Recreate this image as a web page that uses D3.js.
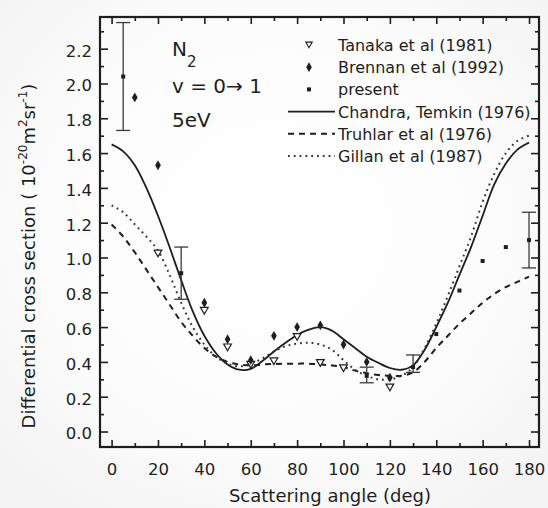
<!DOCTYPE html>
<html>
<head>
<meta charset="utf-8">
<script src="https://cdn.jsdelivr.net/npm/d3@7"></script>
<style>
  html, body { margin: 0; padding: 0; background: #fff; }
  svg { display: block; font-family: "DejaVu Sans", sans-serif; }
</style>
</head>
<body>
<svg id="chart" width="548" height="508"></svg>
<script>
const angles = d3.range(0, 181, 5);
const chandraTemkin = [1.65, 1.61, 1.53, 1.40, 1.24, 1.06, 0.87, 0.69, 0.55, 0.45, 0.385, 0.355, 0.36,
  0.405, 0.46, 0.51, 0.555, 0.585, 0.60, 0.58, 0.53, 0.48, 0.43, 0.395, 0.365, 0.355, 0.38,
  0.47, 0.60, 0.74, 0.90, 1.06, 1.24, 1.42, 1.54, 1.62, 1.66];
const truhlar = [1.19, 1.12, 1.03, 0.93, 0.83, 0.73, 0.63, 0.55, 0.48, 0.43, 0.40, 0.385, 0.38,
  0.385, 0.388, 0.39, 0.39, 0.39, 0.385, 0.38, 0.37, 0.35, 0.335, 0.325, 0.32, 0.32, 0.34,
  0.40, 0.48, 0.55, 0.62, 0.68, 0.74, 0.79, 0.83, 0.86, 0.89];
const gillan = [1.30, 1.26, 1.19, 1.12, 1.04, 0.90, 0.74, 0.60, 0.50, 0.43, 0.39, 0.375, 0.39,
  0.42, 0.46, 0.49, 0.505, 0.51, 0.50, 0.47, 0.41, 0.355, 0.32, 0.30, 0.30, 0.32, 0.37,
  0.48, 0.62, 0.78, 0.95, 1.12, 1.32, 1.48, 1.60, 1.67, 1.70];

// measurements
const tanakaAngles = [20, 40, 50, 60, 70, 80, 90, 100, 120];
const tanakaValues = [1.03, 0.70, 0.49, 0.39, 0.41, 0.55, 0.40, 0.37, 0.26];
const brennanAngles = [10, 20, 40, 50, 60, 70, 80, 90, 100, 110, 120];
const brennanValues = [1.92, 1.53, 0.74, 0.53, 0.41, 0.55, 0.60, 0.61, 0.50, 0.40, 0.31];
const presentAngles = [5, 30, 110, 130, 140, 150, 160, 170, 180];
const presentValues = [2.04, 0.91, 0.32, 0.37, 0.56, 0.81, 0.98, 1.06, 1.10];
const presentLow = [1.73, 0.76, 0.28, 0.34, null, null, null, null, 0.94];
const presentHigh = [2.35, 1.06, 0.37, 0.44, null, null, null, null, 1.26];

// axes
const xTickValues = [0, 20, 40, 60, 80, 100, 120, 140, 160, 180];
const xTickLabels = ['0', '20', '40', '60', '80', '100', '120', '140', '160', '180'];
const xMinorTicks = [10, 30, 50, 70, 90, 110, 130, 150, 170];
const yTickValues = [0, 0.2, 0.4, 0.6, 0.8, 1.0, 1.2, 1.4, 1.6, 1.8, 2.0, 2.2];
const yTickLabels = ['0.0', '0.2', '0.4', '0.6', '0.8', '1.0', '1.2', '1.4', '1.6', '1.8', '2.0', '2.2'];
const yMinorTicks = [0.1, 0.3, 0.5, 0.7, 0.9, 1.1, 1.3, 1.5, 1.7, 1.9, 2.1, 2.3];

const legendLabels = ['Tanaka et al (1981)', 'Brennan et al (1992)', 'present',
  'Chandra, Temkin (1976)', 'Truhlar et al (1976)', 'Gillan et al (1987)'];

const width = 548;
const height = 508;
const plot = { left: 100, right: 539, top: 17, bottom: 447 };
const ink = '#1e1e1e';

const svg = d3.select('#chart');

// faint scanned-paper background
const grad = svg.append('defs').append('radialGradient')
  .attr('id', 'paper').attr('cx', '50%').attr('cy', '45%').attr('r', '70%');
grad.append('stop').attr('offset', '0%').attr('stop-color', '#ffffff');
grad.append('stop').attr('offset', '60%').attr('stop-color', '#fcfcfc');
grad.append('stop').attr('offset', '100%').attr('stop-color', '#f3f3f3');
svg.append('rect').attr('width', width).attr('height', height).attr('fill', 'url(#paper)');

const x = d3.scaleLinear().domain([-5, 184.3]).range([plot.left, plot.right]);
const y = d3.scaleLinear().domain([-0.089, 2.382]).range([plot.bottom, plot.top]);

svg.append('clipPath').attr('id', 'plot-area')
  .append('rect')
  .attr('x', plot.left).attr('y', plot.top)
  .attr('width', plot.right - plot.left).attr('height', plot.bottom - plot.top);

// ticks on all four sides, pointing inward
function styleAxis(g) {
  g.select('.domain').remove();
  g.selectAll('.tick line').attr('stroke', ink).attr('stroke-width', 1.6);
  g.selectAll('.tick text').attr('fill', ink).attr('font-size', 16.5)
    .attr('font-family', '"DejaVu Sans", sans-serif');
}

svg.append('g')
  .attr('transform', `translate(0,${plot.bottom})`)
  .call(d3.axisBottom(x).tickValues(xTickValues)
    .tickFormat((d, i) => xTickLabels[i])
    .tickSizeInner(-7).tickSizeOuter(0).tickPadding(16))
  .call(styleAxis);
svg.append('g')
  .attr('transform', `translate(0,${plot.bottom})`)
  .call(d3.axisBottom(x).tickValues(xMinorTicks).tickFormat('').tickSizeInner(-4).tickSizeOuter(0))
  .call(styleAxis);
svg.append('g')
  .attr('transform', `translate(0,${plot.top})`)
  .call(d3.axisTop(x).tickValues(xTickValues).tickFormat('').tickSizeInner(-7).tickSizeOuter(0))
  .call(styleAxis);
svg.append('g')
  .attr('transform', `translate(0,${plot.top})`)
  .call(d3.axisTop(x).tickValues(xMinorTicks).tickFormat('').tickSizeInner(-4).tickSizeOuter(0))
  .call(styleAxis);

svg.append('g')
  .attr('transform', `translate(${plot.left},0)`)
  .call(d3.axisLeft(y).tickValues(yTickValues)
    .tickFormat((d, i) => yTickLabels[i])
    .tickSizeInner(-8).tickSizeOuter(0).tickPadding(8))
  .call(styleAxis)
  .call(g => g.selectAll('.tick text').attr('dy', '0.45em'));
svg.append('g')
  .attr('transform', `translate(${plot.left},0)`)
  .call(d3.axisLeft(y).tickValues(yMinorTicks).tickFormat('').tickSizeInner(-4).tickSizeOuter(0))
  .call(styleAxis);
svg.append('g')
  .attr('transform', `translate(${plot.right},0)`)
  .call(d3.axisRight(y).tickValues(yTickValues).tickFormat('').tickSizeInner(-8).tickSizeOuter(0))
  .call(styleAxis);
svg.append('g')
  .attr('transform', `translate(${plot.right},0)`)
  .call(d3.axisRight(y).tickValues(yMinorTicks).tickFormat('').tickSizeInner(-4).tickSizeOuter(0))
  .call(styleAxis);

// frame
svg.append('rect')
  .attr('x', plot.left).attr('y', plot.top)
  .attr('width', plot.right - plot.left).attr('height', plot.bottom - plot.top)
  .attr('fill', 'none').attr('stroke', ink).attr('stroke-width', 2.2);

// theory curves
const line = d3.line()
  .x((d, i) => x(angles[i]))
  .y(d => y(d))
  .curve(d3.curveCatmullRom.alpha(0.5));

const curves = [
  { values: chandraTemkin, dash: null, width: 1.8, color: ink },
  { values: truhlar, dash: '6,5', width: 2, color: ink },
  { values: gillan, dash: '1.8,4', width: 2, color: '#333' }
];
curves.forEach(c => {
  svg.append('path')
    .datum(c.values)
    .attr('clip-path', 'url(#plot-area)')
    .attr('fill', 'none')
    .attr('stroke', c.color)
    .attr('stroke-width', c.width)
    .attr('stroke-dasharray', c.dash)
    .attr('d', line);
});

// error bars for present data
const capHalf = 7;
const bars = svg.append('g').attr('clip-path', 'url(#plot-area)')
  .attr('stroke', '#3a3a3a').attr('stroke-width', 1.3).attr('fill', 'none');
presentAngles.forEach((a, i) => {
  if (presentLow[i] == null) return;
  const cx = x(a);
  bars.append('line').attr('x1', cx).attr('x2', cx)
    .attr('y1', y(presentLow[i])).attr('y2', y(presentHigh[i]));
  [presentLow[i], presentHigh[i]].forEach(v => {
    bars.append('line').attr('x1', cx - capHalf).attr('x2', cx + capHalf)
      .attr('y1', y(v)).attr('y2', y(v));
  });
});

// markers
const triangle = d3.symbol().type(d3.symbolTriangle).size(26);
const dot = d3.symbol().type(d3.symbolDiamond).size(28);
const square = d3.symbol().type(d3.symbolSquare).size(16);

svg.append('g').selectAll('path')
  .data(tanakaAngles)
  .join('path')
  .attr('transform', (d, i) => `translate(${x(d)},${y(tanakaValues[i])}) rotate(180)`)
  .attr('d', triangle)
  .attr('fill', '#fff').attr('stroke', ink).attr('stroke-width', 1.2);

svg.append('g').selectAll('path')
  .data(brennanAngles)
  .join('path')
  .attr('transform', (d, i) => `translate(${x(d)},${y(brennanValues[i])})`)
  .attr('d', dot)
  .attr('fill', ink);

svg.append('g').selectAll('path')
  .data(presentAngles)
  .join('path')
  .attr('transform', (d, i) => `translate(${x(d)},${y(presentValues[i])})`)
  .attr('d', square)
  .attr('fill', ink);

// legend
const legend = svg.append('g').attr('font-size', 16).attr('fill', ink);
const rowY = i => 45 + i * 22.2;
legendLabels.forEach((label, i) => {
  legend.append('text').attr('x', 338).attr('y', rowY(i) + 6).text(label);
});
legend.append('path').attr('transform', `translate(309,${rowY(0) - 1}) rotate(180)`)
  .attr('d', d3.symbol().type(d3.symbolTriangle).size(18))
  .attr('fill', '#fff').attr('stroke', ink).attr('stroke-width', 1.1);
legend.append('path').attr('transform', `translate(309,${rowY(1)})`).attr('d', dot).attr('fill', ink);
legend.append('path').attr('transform', `translate(309,${rowY(2)})`).attr('d', square).attr('fill', ink);
curves.forEach((c, i) => {
  legend.append('line')
    .attr('x1', 288).attr('x2', 335)
    .attr('y1', rowY(3 + i)).attr('y2', rowY(3 + i))
    .attr('stroke', c.color).attr('stroke-width', c.width)
    .attr('stroke-dasharray', c.dash);
});

// annotation
const note = svg.append('g').attr('font-size', 20).attr('fill', ink);
note.append('text').attr('x', 172).attr('y', 56)
  .text('N')
  .append('tspan').attr('font-size', 15).attr('dy', 11).text('2');
note.append('text').attr('x', 172).attr('y', 93).text('v = 0\u2192 1');
note.append('text').attr('x', 172).attr('y', 127).text('5eV');

// axis titles
svg.append('text')
  .attr('x', 330).attr('y', 502)
  .attr('text-anchor', 'middle').attr('font-size', 18).attr('fill', ink)
  .text('Scattering angle (deg)');

const yTitle = svg.append('text')
  .attr('transform', 'translate(35,256) rotate(-90)')
  .attr('text-anchor', 'middle').attr('font-size', 18).attr('fill', ink);
yTitle.append('tspan').text('Differential cross section ( 10');
yTitle.append('tspan').attr('font-size', 12).attr('dy', -8).text('-20');
yTitle.append('tspan').attr('dy', 8).text('m');
yTitle.append('tspan').attr('font-size', 12).attr('dy', -8).text('2');
yTitle.append('tspan').attr('dy', 8).text('sr');
yTitle.append('tspan').attr('font-size', 12).attr('dy', -8).text('-1');
yTitle.append('tspan').attr('dy', 8).text(')');
</script>
</body>
</html>
